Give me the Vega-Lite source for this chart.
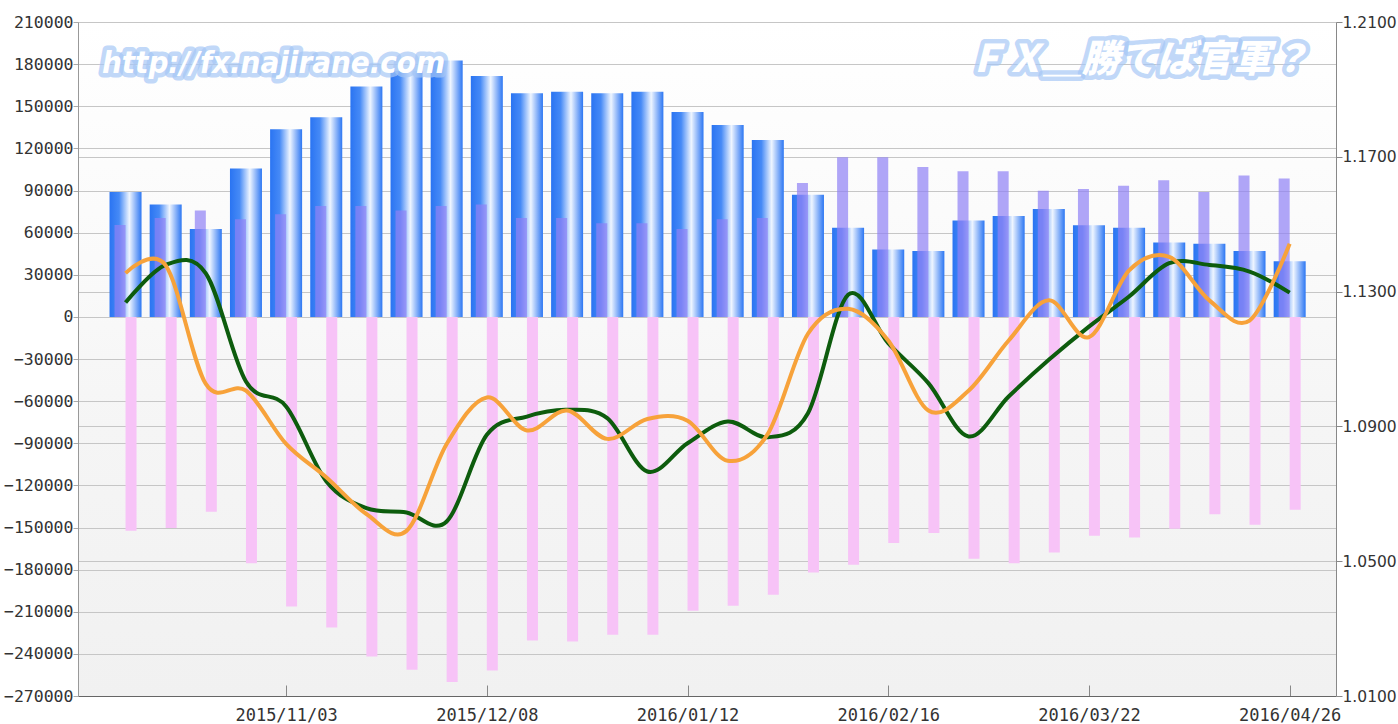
{
  "$schema": "https://vega.github.io/schema/vega-lite/v6.json",
  "width": 1258,
  "height": 674,
  "autosize": {"type": "none"},
  "padding": {"left": 78, "top": 22, "right": 62, "bottom": 28},
  "background": "#ffffff",
  "config": {
    "font": "DejaVu Sans Mono",
    "view": {
      "stroke": null,
      "fill": {
        "gradient": "linear", "x1": 0, "y1": 0, "x2": 0, "y2": 1,
        "stops": [
          {"offset": 0, "color": "#ffffff"},
          {"offset": 0.35, "color": "#fafafa"},
          {"offset": 0.6, "color": "#f5f5f5"},
          {"offset": 1, "color": "#f1f1f1"}
        ]
      }
    },
    "axis": {"labelFont": "DejaVu Sans Mono", "labelColor": "#333333", "title": null}
  },
  "data": {
    "values": [
      {"date": "2015-10-06", "long": 89000, "purple": 65500, "short": -152300, "green": 10200, "price": 1.1355},
      {"date": "2015-10-13", "long": 80000, "purple": 70500, "short": -150400, "green": 37000, "price": 1.1378},
      {"date": "2015-10-20", "long": 62500, "purple": 75700, "short": -138800, "green": 31000, "price": 1.1026},
      {"date": "2015-10-27", "long": 105600, "purple": 69500, "short": -175400, "green": -46000, "price": 1.1006},
      {"date": "2015-11-03", "long": 133600, "purple": 73100, "short": -206200, "green": -63800, "price": 1.0848},
      {"date": "2015-11-10", "long": 142200, "purple": 79000, "short": -221200, "green": -117000, "price": 1.0749},
      {"date": "2015-11-17", "long": 164000, "purple": 79000, "short": -241800, "green": -136200, "price": 1.0640},
      {"date": "2015-11-24", "long": 175300, "purple": 75700, "short": -251300, "green": -139300, "price": 1.0590},
      {"date": "2015-12-01", "long": 182500, "purple": 79000, "short": -260100, "green": -145700, "price": 1.0848},
      {"date": "2015-12-08", "long": 171600, "purple": 80000, "short": -251800, "green": -84000, "price": 1.0986},
      {"date": "2015-12-15", "long": 159200, "purple": 70500, "short": -230400, "green": -71000, "price": 1.0888},
      {"date": "2015-12-22", "long": 160400, "purple": 70500, "short": -231100, "green": -66200, "price": 1.0947},
      {"date": "2015-12-29", "long": 159200, "purple": 66700, "short": -226400, "green": -72100, "price": 1.0863},
      {"date": "2016-01-05", "long": 160400, "purple": 66700, "short": -226400, "green": -110100, "price": 1.0922},
      {"date": "2016-01-12", "long": 145900, "purple": 62600, "short": -209300, "green": -90000, "price": 1.0917},
      {"date": "2016-01-19", "long": 136700, "purple": 69500, "short": -205700, "green": -74500, "price": 1.0798},
      {"date": "2016-01-26", "long": 126000, "purple": 70500, "short": -197900, "green": -85700, "price": 1.0878},
      {"date": "2016-02-02", "long": 86900, "purple": 95400, "short": -182000, "green": -68600, "price": 1.1175},
      {"date": "2016-02-09", "long": 63400, "purple": 113700, "short": -176600, "green": 15700, "price": 1.1249},
      {"date": "2016-02-16", "long": 47900, "purple": 113700, "short": -161100, "green": -18700, "price": 1.1155},
      {"date": "2016-02-23", "long": 47000, "purple": 106800, "short": -154000, "green": -47200, "price": 1.0947},
      {"date": "2016-03-01", "long": 68600, "purple": 103700, "short": -172300, "green": -85200, "price": 1.1006},
      {"date": "2016-03-08", "long": 71900, "purple": 103700, "short": -175400, "green": -56700, "price": 1.1155},
      {"date": "2016-03-15", "long": 76900, "purple": 89900, "short": -167800, "green": -30600, "price": 1.1274},
      {"date": "2016-03-22", "long": 65300, "purple": 91100, "short": -155900, "green": -6900, "price": 1.1165},
      {"date": "2016-03-29", "long": 63400, "purple": 93300, "short": -157100, "green": 14500, "price": 1.1363},
      {"date": "2016-04-05", "long": 52900, "purple": 97300, "short": -150900, "green": 38200, "price": 1.1403},
      {"date": "2016-04-12", "long": 52000, "purple": 89000, "short": -140500, "green": 37000, "price": 1.1274},
      {"date": "2016-04-19", "long": 47000, "purple": 100600, "short": -148100, "green": 32300, "price": 1.1214},
      {"date": "2016-04-26", "long": 39600, "purple": 98500, "short": -137400, "green": 17300, "price": 1.1442}
    ]
  },
  "encoding": {
    "x": {
      "field": "date",
      "type": "temporal",
      "scale": {
        "type": "utc",
        "domain": [
          {"year": 2015, "month": 9, "date": 28, "hours": 14, "utc": true},
          {"year": 2016, "month": 5, "date": 3, "hours": 5, "utc": true}
        ]
      },
      "axis": {
        "values": [
          {"year": 2015, "month": 11, "date": 3, "utc": true},
          {"year": 2015, "month": 12, "date": 8, "utc": true},
          {"year": 2016, "month": 1, "date": 12, "utc": true},
          {"year": 2016, "month": 2, "date": 16, "utc": true},
          {"year": 2016, "month": 3, "date": 22, "utc": true},
          {"year": 2016, "month": 4, "date": 26, "utc": true}
        ],
        "labelExpr": "utcFormat(datum.value, '%Y/%m/%d')",
        "grid": false,
        "labelFontSize": 17,
        "labelFlush": false,
        "labelBound": false,
        "labelOverlap": false,
        "tickSize": -11,
        "tickColor": "#888888",
        "labelPadding": 22,
        "domainColor": "#666666"
      }
    }
  },
  "layer": [
    {
      "layer": [
        {
          "mark": {
            "type": "bar",
            "width": 32,
            "color": {
              "gradient": "linear", "x1": 0, "y1": 0, "x2": 1, "y2": 0,
              "stops": [
                {"offset": 0, "color": "#2a74f2"},
                {"offset": 0.3, "color": "#468af6"},
                {"offset": 0.62, "color": "#eef5ff"},
                {"offset": 0.84, "color": "#7eabf8"},
                {"offset": 1, "color": "#2c77f3"}
              ]
            }
          },
          "encoding": {
            "y": {
              "field": "long",
              "type": "quantitative",
              "scale": {"domain": [-270000, 210000], "nice": false, "zero": false},
              "axis": {
                "values": [-270000, -240000, -210000, -180000, -150000, -120000, -90000, -60000, -30000, 0, 30000, 60000, 90000, 120000, 150000, 180000, 210000],
                "format": "d",
                "labelFontSize": 16.5,
                "tickSize": 5,
                "tickColor": "#aaaaaa",
                "domainColor": "#999999",
                "grid": true,
                "gridColor": "#c6c6c6",
                "labelPadding": 0,
                "labelOverlap": false
              }
            }
          }
        },
        {
          "mark": {"type": "bar", "width": 11, "xOffset": -5.5, "color": "#8f80f5", "opacity": 0.7},
          "encoding": {"y": {"field": "purple", "type": "quantitative"}}
        },
        {
          "mark": {"type": "bar", "width": 11, "xOffset": 5.5, "color": "#f7c3f7"},
          "encoding": {"y": {"field": "short", "type": "quantitative"}}
        },
        {
          "mark": {"type": "line", "interpolate": "cardinal", "color": "#0d5c0d", "strokeWidth": 4},
          "encoding": {"y": {"field": "green", "type": "quantitative"}}
        },
        {
          "data": {"values": [{"label": "http://fx.najirane.com", "date": "2015-10-01T21:00:00Z"}]},
          "mark": {"type": "text", "font": "DejaVu Sans Condensed", "fontStyle": "italic", "fontWeight": "bold", "fontSize": 31, "align": "left", "baseline": "alphabetic", "color": "#ffffff", "stroke": "#a6c7f6", "strokeWidth": 9, "strokeOpacity": 0.7, "strokeJoin": "round"},
          "encoding": {
            "y": {"datum": 173700, "type": "quantitative"},
            "text": {"field": "label", "type": "nominal"}
          }
        },
        {
          "data": {"values": [{"label": "http://fx.najirane.com", "date": "2015-10-01T21:00:00Z"}]},
          "mark": {"type": "text", "font": "DejaVu Sans Condensed", "fontStyle": "italic", "fontWeight": "bold", "fontSize": 31, "align": "left", "baseline": "alphabetic", "color": "#ffffff"},
          "encoding": {
            "y": {"datum": 173700, "type": "quantitative"},
            "text": {"field": "label", "type": "nominal"}
          }
        },
        {
          "data": {"values": [{"label": "ＦＸ＿勝てば官軍？", "date": "2016-03-30T15:00:00Z"}]},
          "mark": {"type": "text", "font": "Noto Sans CJK JP", "fontStyle": "italic", "fontWeight": 900, "fontSize": 38, "align": "center", "baseline": "middle", "color": "#ffffff", "stroke": "#a6c7f6", "strokeWidth": 9, "strokeOpacity": 0.7, "strokeJoin": "round"},
          "encoding": {
            "y": {"datum": 182000, "type": "quantitative"},
            "text": {"field": "label", "type": "nominal"}
          }
        },
        {
          "data": {"values": [{"label": "ＦＸ＿勝てば官軍？", "date": "2016-03-30T15:00:00Z"}]},
          "mark": {"type": "text", "font": "Noto Sans CJK JP", "fontStyle": "italic", "fontWeight": 900, "fontSize": 38, "align": "center", "baseline": "middle", "color": "#ffffff"},
          "encoding": {
            "y": {"datum": 182000, "type": "quantitative"},
            "text": {"field": "label", "type": "nominal"}
          }
        }
      ]
    },
    {
      "mark": {"type": "line", "interpolate": "cardinal", "color": "#f7a23a", "strokeWidth": 4},
      "encoding": {
        "y": {
          "field": "price",
          "type": "quantitative",
          "scale": {"domain": [1.01, 1.21], "nice": false, "zero": false},
          "axis": {
            "orient": "right",
            "values": [1.01, 1.05, 1.09, 1.13, 1.17, 1.21],
            "format": ".4f",
            "labelFont": "DejaVu Sans",
            "labelFontSize": 15.5,
            "tickSize": 6,
            "tickColor": "#888888",
            "domainColor": "#888888",
            "grid": true,
            "gridColor": "#c6c6c6",
            "labelPadding": 0,
            "labelOverlap": false
          }
        }
      }
    }
  ],
  "resolve": {"scale": {"y": "independent"}}
}
